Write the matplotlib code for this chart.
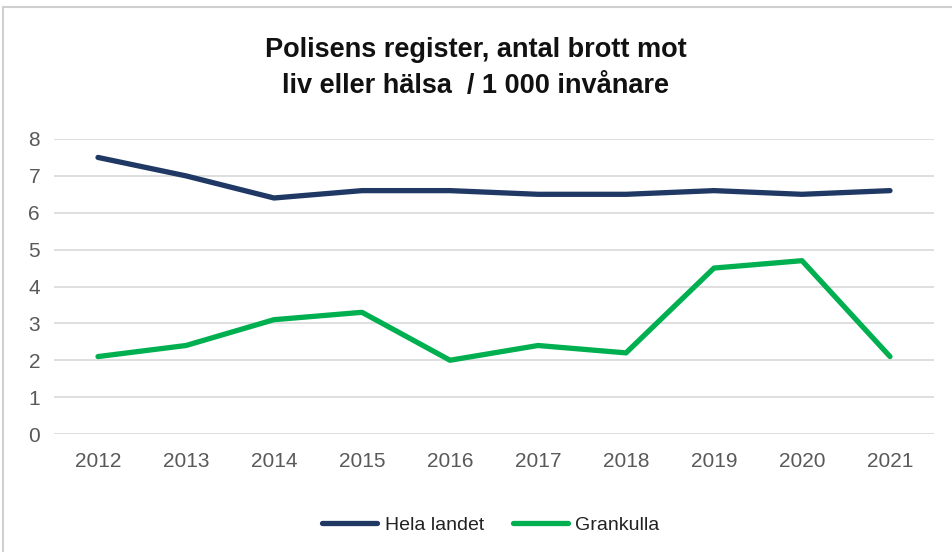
import matplotlib
matplotlib.use('Agg')
import matplotlib.pyplot as plt
import matplotlib.patches as patches

years = [2012, 2013, 2014, 2015, 2016, 2017, 2018, 2019, 2020, 2021]
hela_landet = [7.5, 7.0, 6.4, 6.6, 6.6, 6.5, 6.5, 6.6, 6.5, 6.6]
grankulla = [2.1, 2.4, 3.1, 3.3, 2.0, 2.4, 2.2, 4.5, 4.7, 2.1]
y_ticks = [0, 1, 2, 3, 4, 5, 6, 7, 8]

plt.rcParams['font.family'] = ['Liberation Sans', 'DejaVu Sans']

W, H = 952, 552
fig = plt.figure(figsize=(W / 100, H / 100), dpi=100)
ax = fig.add_axes([54 / W, 1 - 434 / H, (934 - 54) / W, (434 - 139) / H])

# light frame around the chart
fig.patches.append(patches.Rectangle((3 / W, -0.01), 1.0, 1 - 7 / H + 0.01,
                                     transform=fig.transFigure, fill=False,
                                     edgecolor='#d0d0d0', linewidth=1.5))

ax.plot(years, hela_landet, color='#1F3864', linewidth=3.8, solid_capstyle='round',
        solid_joinstyle='round', label='Hela landet')
ax.plot(years, grankulla, color='#00B050', linewidth=3.8, solid_capstyle='round',
        solid_joinstyle='round', label='Grankulla')

ax.set_xlim(2011.5, 2021.5)
ax.set_ylim(0, 8)
ax.set_yticks(y_ticks)
ax.set_xticks(years)
ax.grid(axis='y', color='#d9d9d9', linewidth=1.2)
ax.set_axisbelow(True)
for s in ax.spines.values():
    s.set_visible(False)
ax.tick_params(axis='both', length=0, labelsize=15, colors='#595959')
ax.tick_params(axis='y', pad=10)
ax.tick_params(axis='x', pad=13)

fig.text(0.5, 1 - 50 / H, 'Polisens register, antal brott mot', ha='center', va='center',
         fontsize=19.5, fontweight='bold', color='#111111')
fig.text(0.5, 1 - 86 / H, 'liv eller hälsa  / 1 000 invånare', ha='center', va='center',
         fontsize=19.5, fontweight='bold', color='#111111')

leg = fig.legend(loc='center', bbox_to_anchor=(491 / W, 1 - 525 / H), ncol=2,
                 frameon=False, fontsize=14, handlelength=2.8, columnspacing=1.5,
                 handletextpad=0.4)
for t in leg.get_texts():
    t.set_color('#222222')

fig.savefig('out.png', dpi=100, facecolor='white')
